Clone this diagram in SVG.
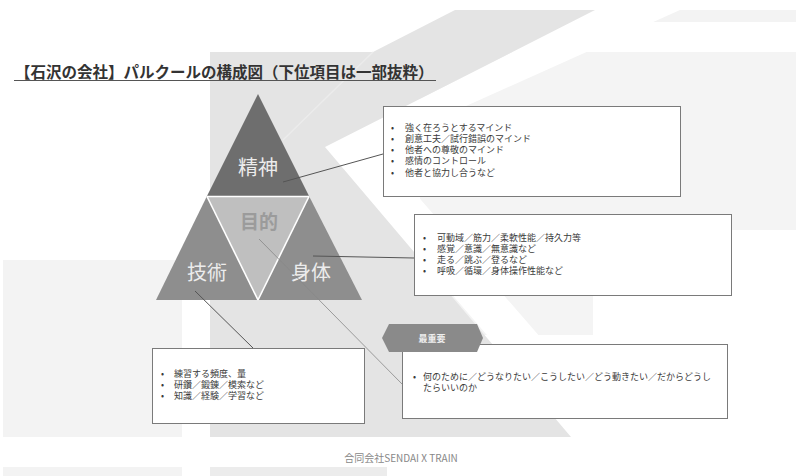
<svg xmlns="http://www.w3.org/2000/svg" width="796" height="476" viewBox="0 0 796 476">
<defs>
<style>
.t{font-family:"Noto Sans CJK JP","Noto Sans",sans-serif;}
.box{fill:#fff;stroke:#7a7a7a;stroke-width:1;}
.item{font-size:9px;fill:#3a3a3a;}
.big{font-size:20px;fill:#ececec;}
.con{stroke:#555;stroke-width:1;fill:none;}
.sep{stroke:#fff;stroke-width:1.6;}
</style>
</defs>
<rect width="796" height="476" fill="#fff"/>
<g id="background">
<rect x="3" y="260" width="179" height="177" fill="#f3f3f3"/>
<rect x="3" y="467" width="179" height="9" fill="#f3f3f3"/>
<rect x="210" y="467" width="177" height="9" fill="#ececec"/>
<rect x="623" y="10" width="173" height="12" fill="#f3f3f3"/>
<polygon points="420,52 796,52 796,230 593,230 593,335 420,335" fill="#f4f4f4"/>
<polygon points="325,147 595,10 680,10 375,147 600,406 548,406" fill="#fff"/>
<polygon points="210,52 373,52 455,10 595,10 325,147 571,437 210,437" fill="#e4e4e4"/>
<line x1="373" y1="52" x2="283" y2="140" stroke="#ececec" stroke-width="1.5"/>
</g>
<text class="t" x="15" y="77.5" font-size="15.5" font-weight="bold" fill="#333">【石沢の会社】パルクールの構成図（下位項目は一部抜粋）</text>
<line x1="14" y1="80.5" x2="436" y2="80.5" stroke="#555" stroke-width="1"/>
<g id="pyramid">
<g id="seishin">
<polygon points="258,94 207,196 309,196" fill="#6e6e6e"/>
<text class="t big" x="258" y="175" text-anchor="middle">精神</text>
</g>
<g id="mokuteki">
<polygon points="207,196 309,196 258,300" fill="#bfbfbf"/>
<text class="t" x="259" y="228.5" text-anchor="middle" font-size="19" font-weight="bold" fill="#9b9b9b">目的</text>
</g>
<g id="gijutsu">
<polygon points="207,196 156,300 258,300" fill="#8e8e8e"/>
<text class="t big" x="207" y="280" text-anchor="middle">技術</text>
</g>
<g id="shintai">
<polygon points="309,196 258,300 362,300" fill="#8e8e8e"/>
<text class="t big" x="311" y="280" text-anchor="middle">身体</text>
</g>
<line class="sep" x1="207" y1="196.5" x2="309" y2="196.5"/>
<line class="sep" x1="207" y1="196.5" x2="258" y2="300"/>
<line class="sep" x1="309" y1="196.5" x2="258" y2="300"/>
</g>
<g id="connectors">
<line class="con" x1="283" y1="182" x2="383" y2="154"/>
<line class="con" x1="313" y1="256" x2="414" y2="258"/>
<line class="con" x1="195" y1="291" x2="253" y2="348"/>
<line x1="259" y1="239" x2="402" y2="384" stroke="#888" stroke-width="0.8"/>
</g>
<g id="box-seishin">
<rect class="box" x="383.5" y="106.5" width="297" height="90"/>
<text class="t item">
<tspan x="391" y="130.5">•</tspan><tspan x="405" y="130.5">強く在ろうとするマインド</tspan>
<tspan x="391" y="141.8">•</tspan><tspan x="405" y="141.8">創意工夫／試行錯誤のマインド</tspan>
<tspan x="391" y="153">•</tspan><tspan x="405" y="153">他者への尊敬のマインド</tspan>
<tspan x="391" y="164.3">•</tspan><tspan x="405" y="164.3">感情のコントロール</tspan>
<tspan x="391" y="175.5">•</tspan><tspan x="405" y="175.5">他者と協力し合うなど</tspan>
</text>
</g>
<g id="box-shintai">
<rect class="box" x="414.5" y="214.5" width="317" height="81"/>
<text class="t item">
<tspan x="423" y="240.5">•</tspan><tspan x="437" y="240.5">可動域／筋力／柔軟性能／持久力等</tspan>
<tspan x="423" y="251.5">•</tspan><tspan x="437" y="251.5">感覚／意識／無意識など</tspan>
<tspan x="423" y="262.5">•</tspan><tspan x="437" y="262.5">走る／跳ぶ／登るなど</tspan>
<tspan x="423" y="273.5">•</tspan><tspan x="437" y="273.5">呼吸／循環／身体操作性能など</tspan>
</text>
</g>
<g id="box-gijutsu">
<rect class="box" x="152.5" y="348.5" width="212" height="75"/>
<text class="t item">
<tspan x="161" y="376.5">•</tspan><tspan x="174" y="376.5">練習する頻度、量</tspan>
<tspan x="161" y="387.5">•</tspan><tspan x="174" y="387.5">研鑽／鍛錬／模索など</tspan>
<tspan x="161" y="398.5">•</tspan><tspan x="174" y="398.5">知識／経験／学習など</tspan>
</text>
</g>
<g id="box-mokuteki">
<rect class="box" x="402.5" y="344.5" width="325" height="74"/>
<text class="t item">
<tspan x="413" y="379.5">•</tspan><tspan x="423" y="379.5">何のために／どうなりたい／こうしたい／どう動きたい／だからどうし</tspan>
<tspan x="423" y="390.5">たらいいのか</tspan>
</text>
</g>
<g id="label-saijuyo">
<polygon points="382,338 389,324 477,324 483,338 477,352 389,352" fill="#8a8a8a"/>
<text class="t" x="432" y="341.5" text-anchor="middle" font-size="9" font-weight="bold" fill="#eee">最重要</text>
</g>
<text class="t" x="401" y="461.5" text-anchor="middle" font-size="10" fill="#888">合同会社SENDAI X TRAIN</text>
</svg>
